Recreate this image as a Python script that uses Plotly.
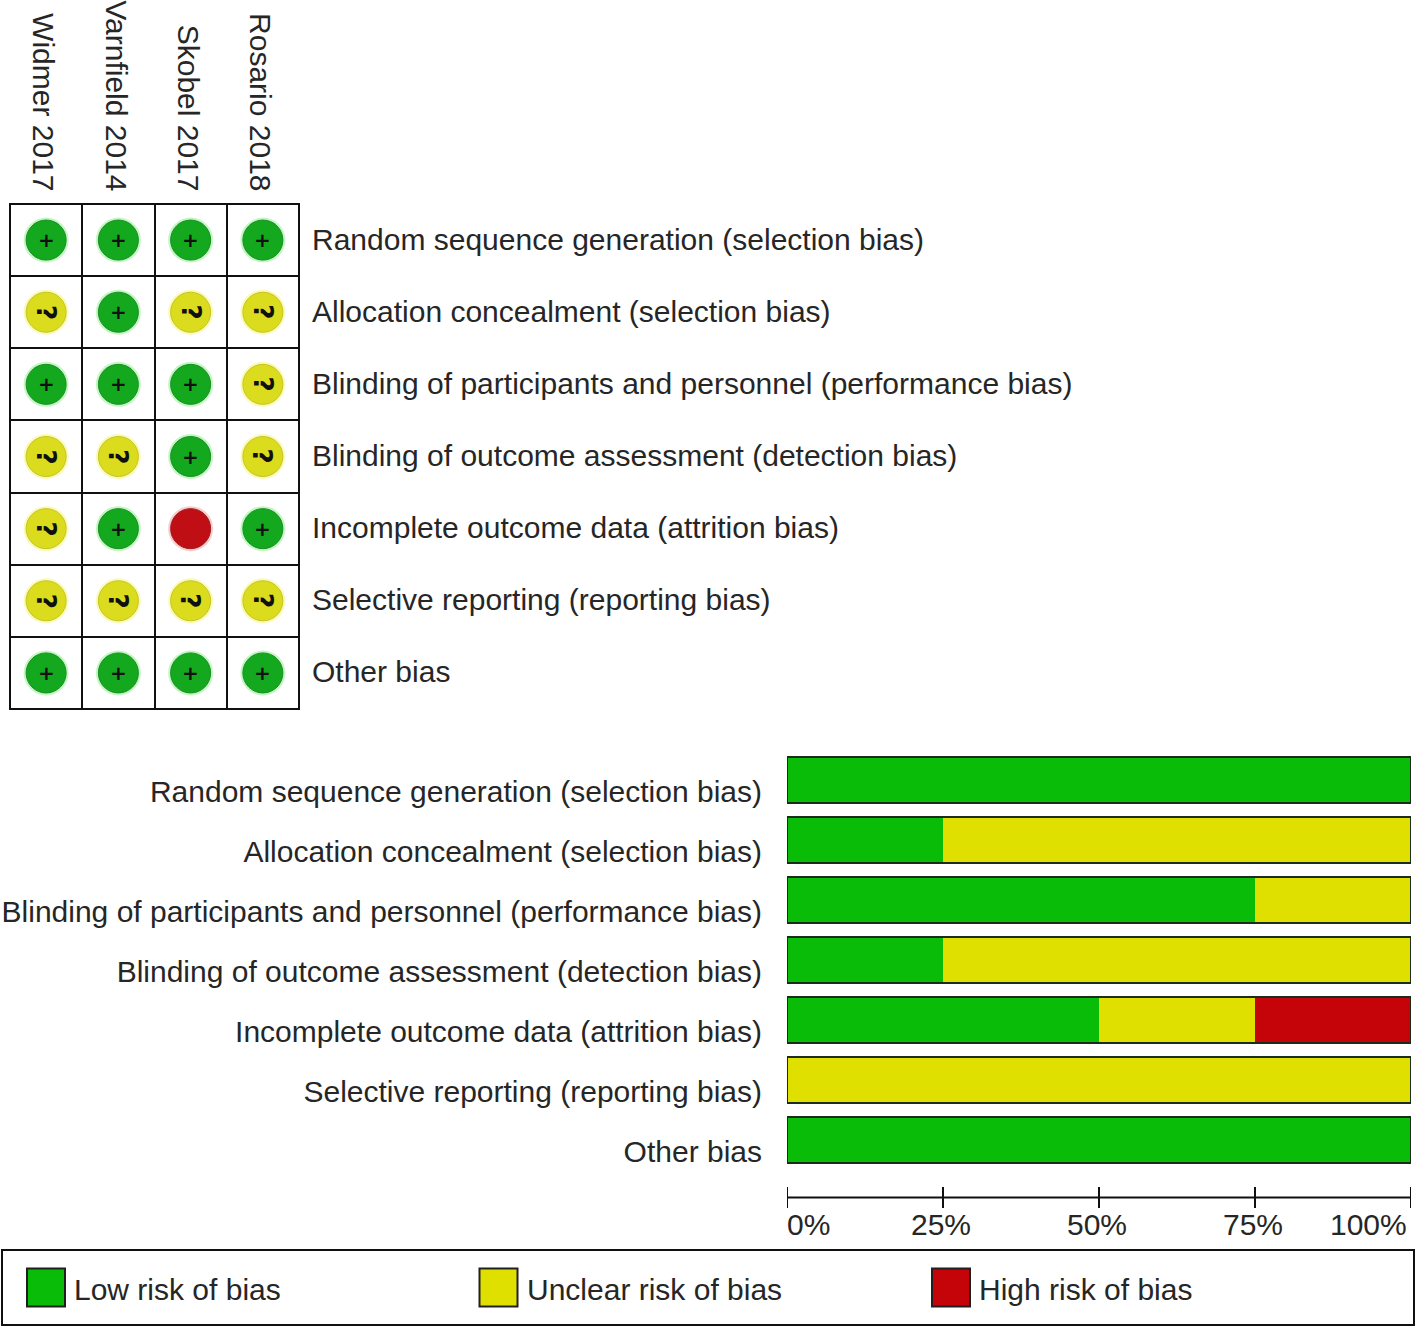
import plotly.graph_objects as go

W, H = 1418, 1329

studies = ["Widmer 2017", "Varnfield 2014", "Skobel 2017", "Rosario 2018"]
domains = [
    "Random sequence generation (selection bias)",
    "Allocation concealment (selection bias)",
    "Blinding of participants and personnel (performance bias)",
    "Blinding of outcome assessment (detection bias)",
    "Incomplete outcome data (attrition bias)",
    "Selective reporting (reporting bias)",
    "Other bias",
]
judgements = [
    ["+", "+", "+", "+"],
    ["?", "+", "?", "?"],
    ["+", "+", "+", "?"],
    ["?", "?", "+", "?"],
    ["?", "+", "-", "+"],
    ["?", "?", "?", "?"],
    ["+", "+", "+", "+"],
]
low_pct = [100, 25, 75, 25, 50, 0, 100]
unclear_pct = [0, 75, 25, 75, 25, 100, 0]
high_pct = [0, 0, 0, 0, 25, 0, 0]
pct_ticks = [0, 25, 50, 75, 100]
legend_names = ["Low risk of bias", "Unclear risk of bias", "High risk of bias"]

GREEN, YELLOW, RED = "#08bc08", "#e0e000", "#c40408"
DOT = {"+": "#14a81e", "?": "#dcdc1e", "-": "#c00f14"}
EDGE = {"+": "#1c8c24", "?": "#c4c424", "-": "#a01c20"}
GLOW = {"+": "rgba(120,235,120,0.45)", "?": "rgba(245,245,110,0.5)", "-": "rgba(230,130,130,0.4)"}
FONT = "Liberation Sans"
INK = "#262626"
FS = 30


def dx(a, b):
    return [a / W, b / W]


def dy(top, bottom):
    return [1 - bottom / H, 1 - top / H]


fig = go.Figure()

# ---- risk of bias matrix ----
xs, ys, cols, glows, edges = [], [], [], [], []
for r, row in enumerate(judgements):
    for c, v in enumerate(row):
        xs.append(c)
        ys.append(r)
        cols.append(DOT[v])
        glows.append(GLOW[v])
        edges.append(EDGE[v])
fig.add_trace(go.Scatter(
    x=xs, y=ys, mode="markers", xaxis="x", yaxis="y", showlegend=False, hoverinfo="skip",
    marker=dict(symbol="circle", size=45, color=glows, line=dict(width=0)),
))
fig.add_trace(go.Scatter(
    x=xs, y=ys, mode="markers", xaxis="x", yaxis="y", showlegend=False,
    marker=dict(symbol="circle", size=40, color=cols, line=dict(color=edges, width=1)),
))
for r, row in enumerate(judgements):
    for c, v in enumerate(row):
        if v == "-":
            continue
        fig.add_annotation(
            x=c, y=r, xref="x", yref="y", text=f"<b>{v}</b>", showarrow=False,
            textangle=90 if v == "?" else 0,
            font=dict(family="DejaVu Sans", size=26 if v == "?" else 20, color="#101010"),
        )

grid = [i - 0.5 for i in range(1, len(studies))]
grid_y = [i - 0.5 for i in range(1, len(domains))]

# ---- summary bars ----
for vals, col, name in zip([low_pct, unclear_pct, high_pct], [GREEN, YELLOW, RED], legend_names):
    fig.add_trace(go.Bar(
        y=domains, x=vals, orientation="h", name=name, xaxis="x2", yaxis="y2",
        marker=dict(color=col, line=dict(width=0)), showlegend=False,
    ))
# dark outline of each whole bar
fig.add_trace(go.Bar(
    y=domains, x=[100] * len(domains), orientation="h", xaxis="x4", yaxis="y2",
    marker=dict(color="rgba(0,0,0,0)", line=dict(color="#1c2c1c", width=2)),
    showlegend=False, hoverinfo="skip",
))

# ---- percent scale ----
for p in pct_ticks:
    anchor = "left" if p == pct_ticks[0] else "right" if p == pct_ticks[-1] else "center"
    fig.add_annotation(
        x=p, y=0, xref="x3", yref="y3 domain", yshift=12, xshift=-2, text=f"{p}%", showarrow=False,
        xanchor=anchor, yanchor="top", font=dict(family=FONT, size=FS, color=INK),
    )
fig.add_trace(go.Scatter(x=pct_ticks, y=[0] * len(pct_ticks), mode="markers", xaxis="x3", yaxis="y3",
                         marker=dict(symbol="line-ns", size=15, line=dict(color="#101010", width=2)),
                         showlegend=False, hoverinfo="skip"))
fig.add_trace(go.Scatter(x=[pct_ticks[0], pct_ticks[-1]], y=[0, 0], mode="lines", xaxis="x3", yaxis="y3",
                         line=dict(color="#101010", width=2), showlegend=False, hoverinfo="skip"))

# ---- legend panel ----
fig.add_trace(go.Scatter(
    x=list(range(3)), y=[0, 0, 0], mode="markers", xaxis="x5", yaxis="y5", showlegend=False,
    marker=dict(symbol="square", size=38, color=[GREEN, YELLOW, RED], line=dict(color="#202020", width=2)),
))
for i, name in enumerate(legend_names):
    fig.add_annotation(
        x=i, y=0, xref="x5", yref="y5", text=name, showarrow=False, xanchor="left",
        xshift=26, yshift=-2, font=dict(family=FONT, size=FS, color=INK),
    )

SPACING = 452.5
layout = dict(
    width=W, height=H, margin=dict(l=0, r=0, t=0, b=0), autosize=False,
    paper_bgcolor="white", plot_bgcolor="rgba(0,0,0,0)", barmode="stack", bargap=14 / 60,
    font=dict(family=FONT, size=FS, color=INK),
    xaxis=dict(domain=dx(11, 298), range=[-0.486, 3.486], side="top", tickmode="array",
               tickvals=list(range(len(studies))), ticktext=studies, tickangle=90, ticks="",
               ticklabelshift=-3, ticklabelstandoff=1,
               showgrid=False, zeroline=False, showline=True, linecolor="#101010", linewidth=2, mirror=True,
               anchor="y", automargin=False,
               minor=dict(tickvals=grid, showgrid=True, gridcolor="#101010", gridwidth=2, ticks="")),
    yaxis=dict(domain=dy(205, 708), range=[6.486, -0.486], side="right", tickmode="array",
               tickvals=list(range(len(domains))), ticktext=domains, ticks="", ticklabelstandoff=6,
               ticklabelshift=1,
               showgrid=False, zeroline=False, showline=True, linecolor="#101010", linewidth=2, mirror=True,
               anchor="x", automargin=False,
               minor=dict(tickvals=grid_y, showgrid=True, gridcolor="#101010", gridwidth=2, ticks="")),
    xaxis2=dict(domain=dx(787, 1411), range=[0, 100], visible=False, anchor="y2"),
    yaxis2=dict(domain=dy(750.2, 1170.4), autorange="reversed", type="category", side="left", anchor="x2",
                ticks="", showline=False, showgrid=False, ticklabelstandoff=24, ticklabelshift=-11,
                automargin=False, tickfont=dict(family=FONT, size=FS, color=INK)),
    xaxis4=dict(domain=dx(787, 1411), range=[0, 100], visible=False, anchor="y2", overlaying="x2"),
    xaxis3=dict(domain=dx(787, 1411), range=[0, 100], visible=False, anchor="y3"),
    yaxis3=dict(domain=dy(1177.5, 1217.5), range=[-1, 1], visible=False, anchor="x3"),
    xaxis5=dict(domain=dx(3, 1413), range=[-43 / SPACING, (1410 - 43) / SPACING], showticklabels=False,
                ticks="", showgrid=False, zeroline=False, showline=True, mirror=True,
                linecolor="#101010", linewidth=2, anchor="y5"),
    yaxis5=dict(domain=dy(1251, 1324), range=[-1, 1], showticklabels=False, ticks="", showgrid=False,
                zeroline=False, showline=True, mirror=True, linecolor="#101010", linewidth=2, anchor="x5"),
)
fig.update_layout(**layout)
fig.write_html("out.html", post_script="document.body.style.margin='0';", config={"displayModeBar": False})
